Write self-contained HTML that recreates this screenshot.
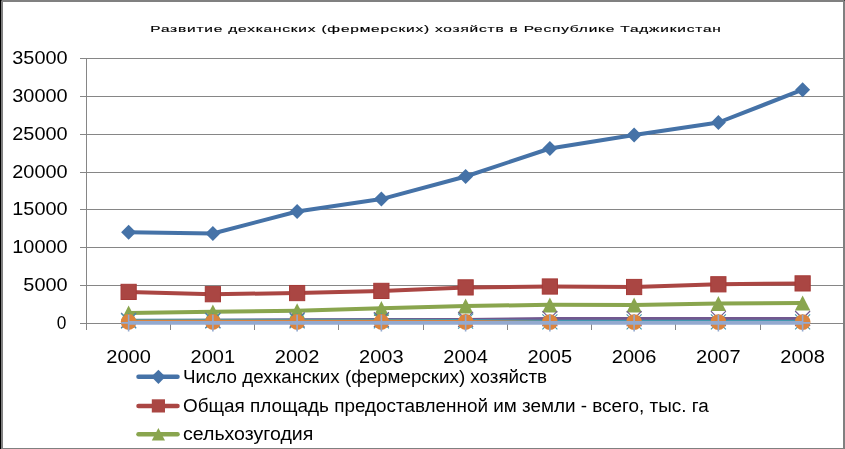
<!DOCTYPE html>
<html><head><meta charset="utf-8"><style>
html,body{margin:0;padding:0;background:#fff;}
body{width:845px;height:449px;overflow:hidden;position:relative;}
svg{position:absolute;left:0;top:0;}
.ax{font-family:"Liberation Sans",sans-serif;font-size:18px;fill:#000;}
.lg{font-family:"Liberation Sans",sans-serif;font-size:18px;fill:#000;}
.ti{font-family:"Liberation Sans",sans-serif;font-size:9.2px;font-weight:normal;fill:#000;stroke:#000;stroke-width:0.15px;}
</style></head><body>
<svg width="845" height="449" viewBox="0 0 845 449">
<rect x="0" y="0" width="845" height="449" fill="#fff"/>
<rect x="80" y="58" width="765" height="1" fill="#868686"/>
<rect x="80" y="96" width="765" height="1" fill="#868686"/>
<rect x="80" y="134" width="765" height="1" fill="#868686"/>
<rect x="80" y="172" width="765" height="1" fill="#868686"/>
<rect x="80" y="209" width="765" height="1" fill="#868686"/>
<rect x="80" y="247" width="765" height="1" fill="#868686"/>
<rect x="80" y="285" width="765" height="1" fill="#868686"/>
<rect x="80" y="323" width="765" height="1" fill="#868686"/>
<rect x="86" y="58" width="1" height="272" fill="#868686"/>
<rect x="170" y="323" width="1" height="7" fill="#868686"/>
<rect x="254" y="323" width="1" height="7" fill="#868686"/>
<rect x="338" y="323" width="1" height="7" fill="#868686"/>
<rect x="423" y="323" width="1" height="7" fill="#868686"/>
<rect x="507" y="323" width="1" height="7" fill="#868686"/>
<rect x="591" y="323" width="1" height="7" fill="#868686"/>
<rect x="675" y="323" width="1" height="7" fill="#868686"/>
<rect x="760" y="323" width="1" height="7" fill="#868686"/>
<polyline points="128.62,232.30 212.88,233.50 297.12,211.50 381.38,199.10 465.62,176.50 549.88,148.50 634.12,135.00 718.38,122.50 802.62,89.70" fill="none" stroke="#4572A7" stroke-width="4" stroke-linejoin="round"/>
<polygon points="128.62,224.80 136.12,232.30 128.62,239.80 121.12,232.30" fill="#4572A7"/>
<polygon points="212.88,226.00 220.38,233.50 212.88,241.00 205.38,233.50" fill="#4572A7"/>
<polygon points="297.12,204.00 304.62,211.50 297.12,219.00 289.62,211.50" fill="#4572A7"/>
<polygon points="381.38,191.60 388.88,199.10 381.38,206.60 373.88,199.10" fill="#4572A7"/>
<polygon points="465.62,169.00 473.12,176.50 465.62,184.00 458.12,176.50" fill="#4572A7"/>
<polygon points="549.88,141.00 557.38,148.50 549.88,156.00 542.38,148.50" fill="#4572A7"/>
<polygon points="634.12,127.50 641.62,135.00 634.12,142.50 626.62,135.00" fill="#4572A7"/>
<polygon points="718.38,115.00 725.88,122.50 718.38,130.00 710.88,122.50" fill="#4572A7"/>
<polygon points="802.62,82.20 810.12,89.70 802.62,97.20 795.12,89.70" fill="#4572A7"/>
<polyline points="128.62,291.90 212.88,294.20 297.12,293.05 381.38,290.90 465.62,287.40 549.88,286.50 634.12,287.00 718.38,284.30 802.62,283.40" fill="none" stroke="#AA4643" stroke-width="4" stroke-linejoin="round"/>
<rect x="121.03" y="284.30" width="15.20" height="15.20" fill="#AA4643" stroke="#A53A37" stroke-width="1"/>
<rect x="205.28" y="286.60" width="15.20" height="15.20" fill="#AA4643" stroke="#A53A37" stroke-width="1"/>
<rect x="289.52" y="285.45" width="15.20" height="15.20" fill="#AA4643" stroke="#A53A37" stroke-width="1"/>
<rect x="373.77" y="283.30" width="15.20" height="15.20" fill="#AA4643" stroke="#A53A37" stroke-width="1"/>
<rect x="458.02" y="279.80" width="15.20" height="15.20" fill="#AA4643" stroke="#A53A37" stroke-width="1"/>
<rect x="542.27" y="278.90" width="15.20" height="15.20" fill="#AA4643" stroke="#A53A37" stroke-width="1"/>
<rect x="626.52" y="279.40" width="15.20" height="15.20" fill="#AA4643" stroke="#A53A37" stroke-width="1"/>
<rect x="710.77" y="276.70" width="15.20" height="15.20" fill="#AA4643" stroke="#A53A37" stroke-width="1"/>
<rect x="795.02" y="275.80" width="15.20" height="15.20" fill="#AA4643" stroke="#A53A37" stroke-width="1"/>
<polyline points="128.62,313.00 212.88,311.80 297.12,310.70 381.38,308.30 465.62,306.00 549.88,304.80 634.12,304.90 718.38,303.40 802.62,302.90" fill="none" stroke="#89A54E" stroke-width="4" stroke-linejoin="round"/>
<polygon points="128.62,305.60 136.32,320.60 120.92,320.60" fill="#89A54E"/>
<polygon points="212.88,304.40 220.57,319.40 205.18,319.40" fill="#89A54E"/>
<polygon points="297.12,303.30 304.82,318.30 289.43,318.30" fill="#89A54E"/>
<polygon points="381.38,300.90 389.07,315.90 373.68,315.90" fill="#89A54E"/>
<polygon points="465.62,298.60 473.32,313.60 457.93,313.60" fill="#89A54E"/>
<polygon points="549.88,297.40 557.58,312.40 542.17,312.40" fill="#89A54E"/>
<polygon points="634.12,297.50 641.83,312.50 626.42,312.50" fill="#89A54E"/>
<polygon points="718.38,296.00 726.08,311.00 710.67,311.00" fill="#89A54E"/>
<polygon points="802.62,295.50 810.33,310.50 794.92,310.50" fill="#89A54E"/>
<polyline points="128.62,320.40 212.88,320.30 297.12,319.80 381.38,319.60 465.62,319.40 549.88,318.60 634.12,318.60 718.38,318.60 802.62,318.50" fill="none" stroke="#71588F" stroke-width="3.0" stroke-linejoin="round"/>
<path d="M121.12,312.90L136.12,327.90M121.12,327.90L136.12,312.90" stroke="#71588F" stroke-width="1.1" fill="none"/>
<path d="M205.38,312.80L220.38,327.80M205.38,327.80L220.38,312.80" stroke="#71588F" stroke-width="1.1" fill="none"/>
<path d="M289.62,312.30L304.62,327.30M289.62,327.30L304.62,312.30" stroke="#71588F" stroke-width="1.1" fill="none"/>
<path d="M373.88,312.10L388.88,327.10M373.88,327.10L388.88,312.10" stroke="#71588F" stroke-width="1.1" fill="none"/>
<path d="M458.12,311.90L473.12,326.90M458.12,326.90L473.12,311.90" stroke="#71588F" stroke-width="1.1" fill="none"/>
<path d="M542.38,311.10L557.38,326.10M542.38,326.10L557.38,311.10" stroke="#71588F" stroke-width="1.1" fill="none"/>
<path d="M626.62,311.10L641.62,326.10M626.62,326.10L641.62,311.10" stroke="#71588F" stroke-width="1.1" fill="none"/>
<path d="M710.88,311.10L725.88,326.10M710.88,326.10L725.88,311.10" stroke="#71588F" stroke-width="1.1" fill="none"/>
<path d="M795.12,311.00L810.12,326.00M795.12,326.00L810.12,311.00" stroke="#71588F" stroke-width="1.1" fill="none"/>
<polyline points="128.62,320.20 212.88,320.20 297.12,320.20 381.38,320.20 465.62,320.50 549.88,321.30 634.12,321.30 718.38,321.30 802.62,321.30" fill="none" stroke="#4198AF" stroke-width="3.0" stroke-linejoin="round"/>
<path d="M121.12,313.30L136.12,328.30M121.12,328.30L136.12,313.30M128.62,313.30L128.62,328.30" stroke="#4198AF" stroke-width="1.1" fill="none"/>
<path d="M205.38,313.30L220.38,328.30M205.38,328.30L220.38,313.30M212.88,313.30L212.88,328.30" stroke="#4198AF" stroke-width="1.1" fill="none"/>
<path d="M289.62,313.30L304.62,328.30M289.62,328.30L304.62,313.30M297.12,313.30L297.12,328.30" stroke="#4198AF" stroke-width="1.1" fill="none"/>
<path d="M373.88,313.30L388.88,328.30M373.88,328.30L388.88,313.30M381.38,313.30L381.38,328.30" stroke="#4198AF" stroke-width="1.1" fill="none"/>
<path d="M458.12,313.70L473.12,328.70M458.12,328.70L473.12,313.70M465.62,313.70L465.62,328.70" stroke="#4198AF" stroke-width="1.1" fill="none"/>
<path d="M542.38,314.40L557.38,329.40M542.38,329.40L557.38,314.40M549.88,314.40L549.88,329.40" stroke="#4198AF" stroke-width="1.1" fill="none"/>
<path d="M626.62,314.40L641.62,329.40M626.62,329.40L641.62,314.40M634.12,314.40L634.12,329.40" stroke="#4198AF" stroke-width="1.1" fill="none"/>
<path d="M710.88,314.40L725.88,329.40M710.88,329.40L725.88,314.40M718.38,314.40L718.38,329.40" stroke="#4198AF" stroke-width="1.1" fill="none"/>
<path d="M795.12,314.40L810.12,329.40M795.12,329.40L810.12,314.40M802.62,314.40L802.62,329.40" stroke="#4198AF" stroke-width="1.1" fill="none"/>
<polyline points="128.62,321.20 212.88,321.20 297.12,321.20 381.38,321.20 465.62,321.40 549.88,322.40 634.12,322.40 718.38,322.40 802.62,322.40" fill="none" stroke="#DB843D" stroke-width="3.0" stroke-linejoin="round"/>
<circle cx="128.62" cy="322.00" r="7.9" fill="#DB843D"/>
<circle cx="212.88" cy="322.00" r="7.9" fill="#DB843D"/>
<circle cx="297.12" cy="322.00" r="7.9" fill="#DB843D"/>
<circle cx="381.38" cy="322.00" r="7.9" fill="#DB843D"/>
<circle cx="465.62" cy="322.00" r="7.9" fill="#DB843D"/>
<circle cx="549.88" cy="322.10" r="7.9" fill="#DB843D"/>
<circle cx="634.12" cy="322.10" r="7.9" fill="#DB843D"/>
<circle cx="718.38" cy="322.10" r="7.9" fill="#DB843D"/>
<circle cx="802.62" cy="322.10" r="7.9" fill="#DB843D"/>
<polyline points="128.62,322.90 212.88,322.90 297.12,322.90 381.38,322.90 465.62,322.90 549.88,322.90 634.12,322.90 718.38,322.90 802.62,322.90" fill="none" stroke="#93A9CF" stroke-width="3.6" stroke-linejoin="round"/>
<path d="M128.62,314.70L128.62,331.50M121.22,322.90L136.03,322.90" stroke="#93A9CF" stroke-width="1.6" fill="none"/>
<path d="M212.88,314.70L212.88,331.50M205.47,322.90L220.28,322.90" stroke="#93A9CF" stroke-width="1.6" fill="none"/>
<path d="M297.12,314.70L297.12,331.50M289.73,322.90L304.52,322.90" stroke="#93A9CF" stroke-width="1.6" fill="none"/>
<path d="M381.38,314.70L381.38,331.50M373.98,322.90L388.77,322.90" stroke="#93A9CF" stroke-width="1.6" fill="none"/>
<path d="M465.62,314.70L465.62,331.50M458.23,322.90L473.02,322.90" stroke="#93A9CF" stroke-width="1.6" fill="none"/>
<path d="M549.88,314.70L549.88,331.50M542.48,322.90L557.27,322.90" stroke="#93A9CF" stroke-width="1.6" fill="none"/>
<path d="M634.12,314.70L634.12,331.50M626.73,322.90L641.52,322.90" stroke="#93A9CF" stroke-width="1.6" fill="none"/>
<path d="M718.38,314.70L718.38,331.50M710.98,322.90L725.77,322.90" stroke="#93A9CF" stroke-width="1.6" fill="none"/>
<path d="M802.62,314.70L802.62,331.50M795.23,322.90L810.02,322.90" stroke="#93A9CF" stroke-width="1.6" fill="none"/>
<text x="67.6" y="63.8" text-anchor="end" class="ax" textLength="55.31" lengthAdjust="spacingAndGlyphs">35000</text>
<text x="67.6" y="101.8" text-anchor="end" class="ax" textLength="55.31" lengthAdjust="spacingAndGlyphs">30000</text>
<text x="67.6" y="139.8" text-anchor="end" class="ax" textLength="55.31" lengthAdjust="spacingAndGlyphs">25000</text>
<text x="67.6" y="177.8" text-anchor="end" class="ax" textLength="55.31" lengthAdjust="spacingAndGlyphs">20000</text>
<text x="67.6" y="214.8" text-anchor="end" class="ax" textLength="55.31" lengthAdjust="spacingAndGlyphs">15000</text>
<text x="67.6" y="252.8" text-anchor="end" class="ax" textLength="55.31" lengthAdjust="spacingAndGlyphs">10000</text>
<text x="67.6" y="290.8" text-anchor="end" class="ax" textLength="44.24" lengthAdjust="spacingAndGlyphs">5000</text>
<text x="66.4" y="328.8" text-anchor="end" class="ax" textLength="9.60" lengthAdjust="spacingAndGlyphs">0</text>
<text x="128.62" y="362.5" text-anchor="middle" class="ax" textLength="44.5" lengthAdjust="spacingAndGlyphs">2000</text>
<text x="212.88" y="362.5" text-anchor="middle" class="ax" textLength="44.5" lengthAdjust="spacingAndGlyphs">2001</text>
<text x="297.12" y="362.5" text-anchor="middle" class="ax" textLength="44.5" lengthAdjust="spacingAndGlyphs">2002</text>
<text x="381.38" y="362.5" text-anchor="middle" class="ax" textLength="44.5" lengthAdjust="spacingAndGlyphs">2003</text>
<text x="465.62" y="362.5" text-anchor="middle" class="ax" textLength="44.5" lengthAdjust="spacingAndGlyphs">2004</text>
<text x="549.88" y="362.5" text-anchor="middle" class="ax" textLength="44.5" lengthAdjust="spacingAndGlyphs">2005</text>
<text x="634.12" y="362.5" text-anchor="middle" class="ax" textLength="44.5" lengthAdjust="spacingAndGlyphs">2006</text>
<text x="718.38" y="362.5" text-anchor="middle" class="ax" textLength="44.5" lengthAdjust="spacingAndGlyphs">2007</text>
<text x="802.62" y="362.5" text-anchor="middle" class="ax" textLength="44.5" lengthAdjust="spacingAndGlyphs">2008</text>
<text transform="translate(150.3,32.3) scale(1.68,1)" x="0" y="0" class="ti" textLength="339.6" lengthAdjust="spacing">Развитие дехканских (фермерских) хозяйств в Республике Таджикистан</text>
<line x1="138.5" y1="376.8" x2="177.5" y2="376.8" stroke="#4572A7" stroke-width="4.5" stroke-linecap="round"/>
<polygon points="158.4,369.70 165.50,376.8 158.4,383.90 151.30,376.8" fill="#4572A7"/>
<line x1="138.5" y1="405.9" x2="177.5" y2="405.9" stroke="#AA4643" stroke-width="4.5" stroke-linecap="round"/>
<rect x="151.80" y="399.30" width="13.20" height="13.20" fill="#AA4643"/>
<line x1="138.5" y1="434.2" x2="177.5" y2="434.2" stroke="#89A54E" stroke-width="4.5" stroke-linecap="round"/>
<polygon points="158.4,428.00 165.00,440.40 151.80,440.40" fill="#89A54E"/>
<text x="183" y="382.8" class="lg" textLength="364.1" lengthAdjust="spacingAndGlyphs">Число дехканских (фермерских) хозяйств</text>
<text x="183" y="411.7" class="lg" textLength="525.7" lengthAdjust="spacingAndGlyphs">Общая площадь предоставленной им земли - всего, тыс. га</text>
<text x="183" y="440.4" class="lg" textLength="130.3" lengthAdjust="spacingAndGlyphs">сельхозугодия</text>
<rect x="0" y="0" width="845" height="2" fill="#808080"/>
<rect x="843" y="0" width="2" height="449" fill="#808080"/>
<rect x="0" y="448" width="845" height="1" fill="#808080"/>
<rect x="1" y="0" width="2" height="449" fill="#808080"/>
<rect x="0" y="0" width="1" height="449" fill="#000"/>
<rect x="1" y="0" width="1" height="1" fill="#404040"/>
<rect x="844" y="0" width="1" height="1" fill="#404040"/>
</svg>
</body></html>
